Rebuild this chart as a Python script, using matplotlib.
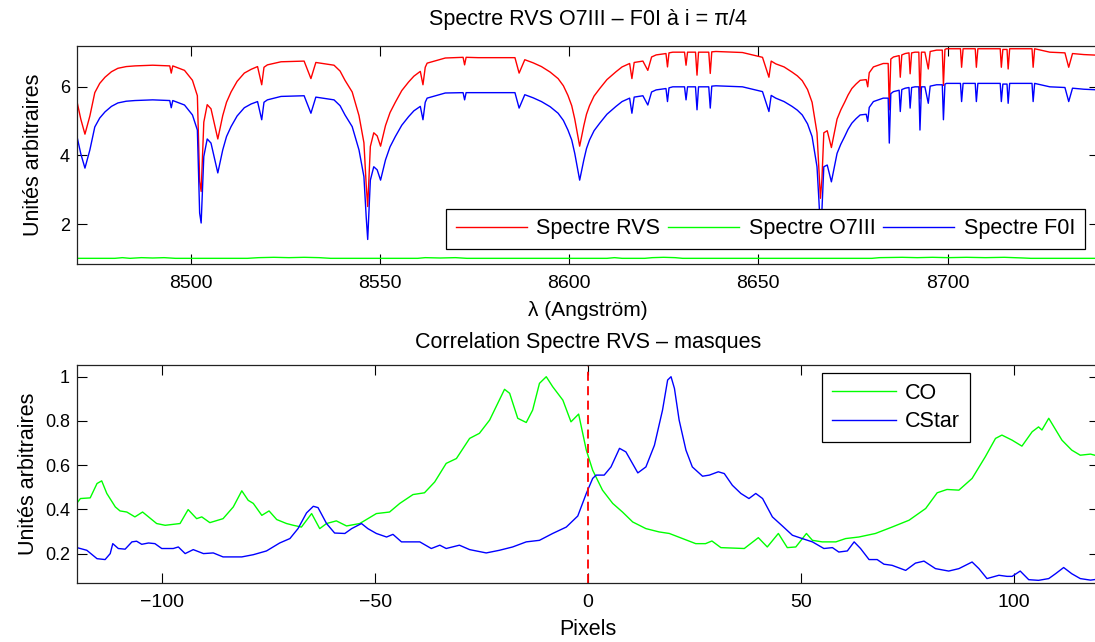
import numpy as np
import matplotlib.pyplot as plt

plt.rcParams['font.family'] = ['Liberation Sans', 'DejaVu Sans']

# Spectra (top panel)
wl = [8470.0, 8471.0, 8472.1, 8473.4, 8474.7, 8476.0, 8477.4, 8479.1, 8480.8, 8483.0,
      8485.3, 8490.0, 8494.5, 8494.9, 8495.3, 8498.4, 8500.5, 8501.8, 8502.4, 8502.8,
      8503.5, 8504.4, 8505.4, 8507.2, 8508.5, 8509.5, 8510.7, 8512.3, 8514.2, 8516.0,
      8517.7, 8518.8, 8519.4, 8520.3, 8523.9, 8530.0, 8531.8, 8533.1, 8537.9, 8539.5,
      8540.8, 8542.7, 8544.5, 8545.8, 8546.4, 8546.8, 8547.5, 8548.4, 8549.3, 8550.2,
      8551.5, 8552.7, 8554.1, 8555.8, 8557.6, 8559.0, 8560.7, 8561.4, 8562.0, 8562.5,
      8567.3, 8572.0, 8572.4, 8572.8, 8576.0, 8585.7, 8586.8, 8588.3, 8590.5, 8592.7,
      8595.0, 8597.1, 8598.5, 8599.7, 8600.7, 8601.5, 8602.8, 8603.9, 8604.6, 8605.4,
      8606.6, 8608.1, 8610.0, 8612.4, 8614.0, 8616.0, 8616.6, 8617.2, 8619.5, 8620.8,
      8621.8, 8623.0, 8625.6, 8626.0, 8626.4, 8627.4, 8630.5, 8630.9, 8631.3, 8633.4,
      8633.8, 8634.2, 8635.3, 8636.9, 8637.3, 8637.7, 8638.8, 8645.8, 8651.1, 8652.8,
      8653.4, 8654.6, 8656.8, 8658.9, 8660.3, 8661.6, 8663.0, 8664.2, 8665.5, 8666.0,
      8666.4, 8666.8, 8667.3, 8668.2, 8669.3, 8670.8, 8671.8, 8672.8, 8673.7, 8674.7,
      8675.8, 8676.9, 8678.5, 8678.9, 8679.3, 8680.4, 8683.0, 8684.3, 8684.6, 8685.0,
      8685.7, 8687.2, 8687.5, 8687.9, 8688.8, 8689.8, 8690.1, 8690.5, 8691.4, 8692.4,
      8692.7, 8693.1, 8694.0, 8694.9, 8695.4, 8697.1, 8698.6, 8698.9, 8699.3, 8699.7,
      8703.4, 8703.7, 8704.1, 8707.3, 8707.6, 8708.0, 8713.9, 8714.2, 8714.6, 8715.7,
      8716.0, 8716.4, 8722.3, 8722.6, 8723.0, 8727.0, 8731.0, 8732.0, 8733.0, 8736.0,
      8740.0]

f0i = [4.55, 4.05, 3.63, 4.16, 4.83, 5.09, 5.27, 5.43, 5.53, 5.58,
       5.60, 5.62, 5.60, 5.39, 5.60, 5.47, 5.18, 4.74, 2.32, 2.03,
       3.97, 4.48, 4.36, 3.49, 4.16, 4.55, 4.84, 5.15, 5.39, 5.50,
       5.57, 5.04, 5.55, 5.62, 5.72, 5.74, 5.23, 5.70, 5.62, 5.45,
       5.18, 4.84, 4.16, 3.38, 2.21, 1.55, 3.28, 3.67, 3.58, 3.28,
       3.87, 4.25, 4.55, 4.88, 5.13, 5.30, 5.43, 5.04, 5.55, 5.67,
       5.82, 5.83, 5.62, 5.83, 5.83, 5.83, 5.38, 5.77, 5.68, 5.57,
       5.42, 5.23, 5.02, 4.74, 4.45, 4.06, 3.28, 3.87, 4.20, 4.45,
       4.72, 4.94, 5.20, 5.43, 5.57, 5.67, 5.23, 5.70, 5.74, 5.47,
       5.85, 5.91, 5.95, 5.57, 5.97, 6.00, 6.00, 5.62, 6.00, 6.00,
       5.33, 6.00, 6.00, 6.00, 5.38, 6.02, 6.03, 6.00, 5.86, 5.28,
       5.75, 5.67, 5.57, 5.43, 5.32, 5.18, 4.92, 4.55, 3.67, 2.70,
       1.85, 2.40, 3.67, 3.72, 3.23, 4.06, 4.33, 4.55, 4.76, 4.94,
       5.07, 5.18, 5.20, 4.99, 5.40, 5.57, 5.67, 5.67, 4.36, 5.80,
       5.86, 5.90, 5.28, 5.92, 5.96, 5.98, 5.38, 5.98, 6.00, 6.00,
       4.74, 6.00, 6.00, 5.52, 6.02, 6.06, 6.06, 5.04, 6.08, 6.10,
       6.10, 5.57, 6.10, 6.10, 5.57, 6.10, 6.10, 5.57, 6.08, 6.08,
       5.52, 6.10, 6.10, 5.57, 6.10, 6.00, 5.98, 5.57, 5.96, 5.93,
       5.91]

rvs = [5.57, 5.06, 4.62, 5.15, 5.83, 6.10, 6.28, 6.44, 6.54, 6.59,
       6.61, 6.63, 6.61, 6.40, 6.61, 6.48, 6.19, 5.74, 3.25, 2.95,
       4.97, 5.48, 5.36, 4.48, 5.16, 5.55, 5.85, 6.16, 6.40, 6.51,
       6.59, 6.06, 6.57, 6.64, 6.73, 6.75, 6.24, 6.71, 6.63, 6.46,
       6.19, 5.85, 5.16, 4.37, 3.15, 2.51, 4.26, 4.66, 4.57, 4.27,
       4.87, 5.25, 5.55, 5.89, 6.14, 6.31, 6.45, 6.06, 6.57, 6.69,
       6.84, 6.86, 6.64, 6.86, 6.85, 6.85, 6.40, 6.79, 6.70, 6.59,
       6.43, 6.24, 6.03, 5.75, 5.45, 5.06, 4.27, 4.87, 5.20, 5.45,
       5.73, 5.95, 6.21, 6.44, 6.58, 6.68, 6.24, 6.71, 6.75, 6.48,
       6.87, 6.93, 6.97, 6.58, 6.99, 7.01, 7.01, 6.63, 7.01, 7.01,
       6.34, 7.01, 7.01, 7.01, 6.39, 7.02, 7.03, 7.00, 6.86, 6.28,
       6.75, 6.67, 6.58, 6.43, 6.32, 6.18, 5.92, 5.55, 4.66, 3.60,
       2.75, 3.30, 4.66, 4.72, 4.23, 5.06, 5.33, 5.55, 5.76, 5.95,
       6.08, 6.19, 6.21, 6.00, 6.41, 6.58, 6.68, 6.68, 5.33, 6.81,
       6.87, 6.91, 6.28, 6.93, 6.97, 6.99, 6.38, 6.99, 7.01, 7.01,
       5.65, 7.01, 7.01, 6.52, 7.03, 7.07, 7.07, 6.04, 7.09, 7.11,
       7.11, 6.57, 7.11, 7.11, 6.57, 7.11, 7.11, 6.57, 7.09, 7.09,
       6.52, 7.11, 7.11, 6.57, 7.11, 7.01, 6.99, 6.57, 6.97, 6.94,
       6.92]

wl_o7 = [8470, 8480, 8482, 8484, 8487, 8490, 8493, 8496, 8515, 8518,
         8522, 8526, 8530, 8534, 8537, 8560, 8562, 8566, 8570, 8573,
         8610, 8612, 8614, 8620, 8622, 8625, 8628, 8630, 8680, 8682,
         8688, 8692, 8696, 8700, 8705, 8710, 8715, 8720, 8722, 8740]
o7iii = [1.00, 1.00, 1.02, 1.00, 1.02, 1.01, 1.02, 1.00, 1.00, 1.02,
         1.03, 1.02, 1.03, 1.02, 1.00, 1.00, 1.02, 1.01, 1.02, 1.00,
         1.00, 1.02, 1.00, 1.00, 1.02, 1.03, 1.02, 1.00, 1.00, 1.02,
         1.03, 1.02, 1.03, 1.02, 1.03, 1.02, 1.03, 1.01, 1.00, 1.00]

# Correlation with masks (bottom panel)
pix_co = [-120, -119.2, -116.9, -115.3, -114.2, -113, -111, -109.9, -108.3, -106.4,
          -104.6, -103.2, -101.3, -99.3, -95.8, -93.9, -91.9, -90.7, -88.8, -85.7,
          -83.3, -81.3, -79.8, -78.6, -76.6, -74.9, -73.1, -70.8, -69.2, -67.3,
          -64.9, -63, -61.4, -59.1, -56.7, -53.6, -49.7, -46.6, -44.2, -41.1,
          -38.4, -36, -33.3, -30.9, -27.8, -25.5, -23.1, -19.6, -18.4, -16.5,
          -14.5, -13, -11.4, -9.8, -8.3, -5.9, -4, -2.2, -0.4, 1.1,
          3.4, 5.8, 8.1, 10.5, 13.6, 16.7, 19.1, 22.2, 25.3, 27.6,
          29.1, 31.2, 36.7, 40, 42.1, 44.7, 46.8, 48.8, 51.3, 52.7,
          55, 58.2, 60.5, 63.6, 67.5, 71.4, 75.4, 79.3, 82, 84.3,
          87.1, 90.2, 93.3, 95.7, 97.2, 99.6, 101.9, 104.3, 105.8, 106.6,
          108.2, 111.3, 113.6, 115.6, 118, 120]
co = [0.429, 0.449, 0.452, 0.517, 0.529, 0.472, 0.411, 0.393, 0.388, 0.366,
      0.388, 0.366, 0.336, 0.328, 0.336, 0.399, 0.358, 0.366, 0.340, 0.358,
      0.411, 0.484, 0.441, 0.427, 0.373, 0.393, 0.354, 0.336, 0.328, 0.320,
      0.381, 0.313, 0.336, 0.348, 0.325, 0.336, 0.381, 0.388, 0.427, 0.467,
      0.475, 0.524, 0.608, 0.630, 0.721, 0.744, 0.804, 0.943, 0.925, 0.812,
      0.793, 0.849, 0.970, 1.000, 0.955, 0.894, 0.796, 0.831, 0.668, 0.577,
      0.487, 0.427, 0.388, 0.343, 0.313, 0.298, 0.291, 0.268, 0.245, 0.245,
      0.257, 0.227, 0.223, 0.272, 0.230, 0.291, 0.227, 0.230, 0.291, 0.260,
      0.253, 0.253, 0.268, 0.275, 0.291, 0.320, 0.351, 0.404, 0.475, 0.490,
      0.487, 0.540, 0.638, 0.721, 0.736, 0.713, 0.686, 0.751, 0.773, 0.759,
      0.812, 0.713, 0.668, 0.645, 0.650, 0.640]

pix_cstar = [-120, -117.7, -115.3, -113.4, -112.2, -111.6, -110.3, -108.7, -107.1, -106,
             -104.8, -103.2, -101.7, -100.1, -97.4, -96.2, -94.6, -92.7, -90.3, -88,
             -85.7, -81.3, -78.6, -75.5, -72.4, -70, -68.1, -66.1, -64.5, -63.4,
             -61.4, -59.5, -57.1, -55.5, -53.2, -51.7, -49.7, -47.3, -45.8, -43.8,
             -39.5, -36.8, -34.8, -33.3, -30.2, -27.8, -23.9, -20.8, -17.7, -14.5,
             -11.4, -8.3, -5.1, -2.4, -0.4, 1.1, 1.9, 3.8, 5.4, 7.4,
             8.9, 11.7, 13.6, 15.6, 17.5, 18.7, 19.5, 20.3, 21.4, 23,
             24.5, 26.9, 28.5, 30.6, 32, 33.9, 35.9, 37.8, 39.4, 41,
             43.3, 45.7, 48, 50.3, 52.7, 55.4, 57.4, 58.9, 60.9, 62.5,
             64, 66, 67.9, 69.5, 71.4, 74.6, 76.9, 78.9, 81.6, 84.7,
             87.1, 90.2, 91.8, 93.7, 96.5, 98.4, 99.6, 101.5, 103.5, 105.8,
             108.2, 109.8, 111.7, 113.6, 115.6, 118, 120]
cstar = [0.227, 0.215, 0.177, 0.173, 0.200, 0.245, 0.223, 0.220, 0.253, 0.256,
         0.242, 0.248, 0.245, 0.223, 0.223, 0.230, 0.200, 0.218, 0.200, 0.203,
         0.185, 0.185, 0.195, 0.212, 0.248, 0.268, 0.313, 0.384, 0.414, 0.408,
         0.336, 0.293, 0.291, 0.313, 0.336, 0.313, 0.291, 0.275, 0.287, 0.253,
         0.253, 0.223, 0.238, 0.223, 0.238, 0.218, 0.203, 0.215, 0.230, 0.253,
         0.260, 0.291, 0.320, 0.370, 0.472, 0.540, 0.555, 0.555, 0.592, 0.676,
         0.660, 0.565, 0.592, 0.690, 0.849, 0.985, 1.000, 0.947, 0.804, 0.668,
         0.592, 0.550, 0.555, 0.570, 0.562, 0.509, 0.472, 0.449, 0.472, 0.449,
         0.366, 0.324, 0.283, 0.268, 0.253, 0.223, 0.227, 0.207, 0.212, 0.253,
         0.223, 0.173, 0.173, 0.152, 0.147, 0.124, 0.157, 0.166, 0.132, 0.121,
         0.132, 0.162, 0.132, 0.087, 0.102, 0.097, 0.097, 0.121, 0.082, 0.079,
         0.087, 0.109, 0.137, 0.109, 0.087, 0.080, 0.085]

FS = 14      # tick labels
FT = 15.5    # titles / axis labels
FL = 15.5    # legends
W, H = 1095, 642
fig = plt.figure(figsize=(W / 100, H / 100), dpi=100)
ax1 = fig.add_axes([77 / W, 1 - 264 / H, 1022 / W, 218 / H])
ax2 = fig.add_axes([77 / W, 1 - 583 / H, 1022 / W, 218 / H])

ax1.plot(wl, rvs, color='#ff0000', lw=1.0, label='Spectre RVS')
ax1.plot(wl_o7, o7iii, color='#00ff00', lw=1.0, label='Spectre O7III')
ax1.plot(wl, f0i, color='#0000ff', lw=1.0, label='Spectre F0I')
ax1.set_xlim(8470, 8740)
ax1.set_ylim(0.835, 7.19)
ax1.set_xticks([8500, 8550, 8600, 8650, 8700])
ax1.set_yticks([2, 4, 6])
ax1.set_title('Spectre RVS O7III \u2013 F0I \u00e0 i = \u03c0/4', fontsize=FT, pad=15)
ax1.set_xlabel('\u03bb (Angstr\u00f6m)', fontsize=15)
ax1.set_ylabel('Unit\u00e9s arbitraires', fontsize=FT)
ax1.xaxis.set_label_coords(0.5, -0.168)
ax1.yaxis.set_label_coords(-0.032, 0.5)
leg1 = ax1.legend(ncol=3, loc='lower right', bbox_to_anchor=(0.986, 0.069),
                  borderaxespad=0, fontsize=FL, fancybox=False, edgecolor='black',
                  framealpha=1, handlelength=3.3, handletextpad=0.45, columnspacing=0.35,
                  borderpad=0.45)
leg1.get_frame().set_linewidth(0.9)
leg1.set_zorder(5)

ax2.plot(pix_co, co, color='#00ff00', lw=1.0, label='CO')
ax2.plot(pix_cstar, cstar, color='#0000ff', lw=1.0, label='CStar')
ax2.axvline(0, color='#ff0000', lw=1.3, linestyle=(0, (5, 3)))
ax2.set_xlim(-120, 120)
ax2.set_ylim(0.067, 1.053)
ax2.set_xticks([-100, -50, 0, 50, 100])
ax2.set_yticks([0.2, 0.4, 0.6, 0.8, 1.0])
ax2.set_yticklabels(['0.2', '0.4', '0.6', '0.8', '1'])
ax2.set_title('Correlation Spectre RVS \u2013 masques', fontsize=FT, pad=12)
ax2.set_xlabel('Pixels', fontsize=FT)
ax2.set_ylabel('Unit\u00e9s arbitraires', fontsize=FT)
ax2.xaxis.set_label_coords(0.5, -0.165)
ax2.yaxis.set_label_coords(-0.037, 0.5)
leg2 = ax2.legend(loc='upper left', bbox_to_anchor=((822 - 77) / 1022, 1 - (373 - 365) / 218),
                  borderaxespad=0, fontsize=FL, fancybox=False, edgecolor='black',
                  framealpha=1, handlelength=3.0, handletextpad=0.4, borderpad=0.45,
                  labelspacing=0.35)
leg2.get_frame().set_linewidth(0.9)

for ax in (ax1, ax2):
    ax.tick_params(direction='in', length=7, width=0.8, labelsize=FS, top=True, right=True)
    ax.tick_params(axis='x', pad=8)
    ax.tick_params(axis='y', pad=5, labelsize=13)
    for s in ax.spines.values():
        s.set_linewidth(0.9)
        s.set_color('#222222')

fig.savefig('out.png', dpi=100)
